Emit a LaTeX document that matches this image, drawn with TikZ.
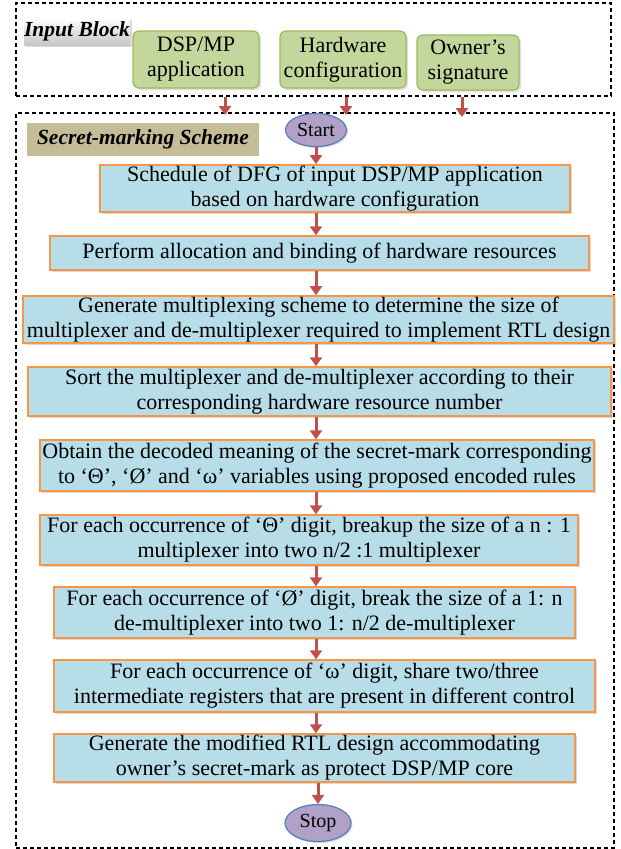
\documentclass[tikz,border=0pt]{standalone}
\usepackage{fontspec}
\setmainfont{Liberation Serif}
\usepackage{xcolor}
\usepackage{tikz}
\usetikzlibrary{arrows.meta,shapes.geometric,shadows}
\definecolor{stepfill}{HTML}{B7DDE8}
\definecolor{stepline}{HTML}{F79646}
\definecolor{inputfill}{HTML}{C3D69B}
\definecolor{inputline}{HTML}{9BBB59}
\definecolor{termfill}{HTML}{B2A1C7}
\definecolor{termline}{HTML}{4F81BD}
\definecolor{flowred}{HTML}{C0504D}
\definecolor{schemetan}{HTML}{C4BD97}
\tikzset{
  frame/.style={draw,line width=1.1pt,dash pattern=on 4pt off 3pt,inner sep=0pt},
  stepbox/.style={draw=stepline,fill=stepfill,line width=1.4pt,align=center,inner sep=1pt,
    drop shadow={shadow xshift=2pt,shadow yshift=-2pt,opacity=0.3}},
  inputbox/.style={draw=inputline,fill=inputfill,line width=1.2pt,rounded corners=6pt,
    align=center,inner sep=1pt,drop shadow={shadow xshift=2pt,shadow yshift=-2pt,opacity=0.25}},
  termnode/.style={ellipse,draw=termline,fill=termfill,line width=1.2pt,inner sep=0pt,
    font=\fontsize{20}{24}\selectfont,
    drop shadow={shadow xshift=1.5pt,shadow yshift=-1.5pt,opacity=0.3}},
  tagbox/.style={inner sep=0pt,font=\fontsize{21.5}{25}\selectfont\bfseries\itshape},
  flow/.style={draw=flowred,line width=3pt,-{Triangle[length=9pt,width=12pt]}},
}
\begin{document}
\begin{tikzpicture}[x=1pt,y=-1pt,font=\fontsize{22}{25}\selectfont]
  \useasboundingbox (0,0) rectangle (621,849);
  \node (inbox) [frame,minimum width=595pt,minimum height=93pt] at (313.5,49.5) {};
  \node (scheme) [frame,minimum width=598pt,minimum height=735pt] at (315,480.5) {};
  \node (intag) [tagbox,top color=white,bottom color=gray!45,minimum width=104pt,minimum height=27pt,
    drop shadow={shadow xshift=2pt,shadow yshift=-2pt,opacity=0.3}] at (77,31.5) {Input Block};
  \node (schemetag) [tagbox,fill=schemetan,minimum width=232pt,minimum height=33pt]
    at (143,139.5) {Secret-marking Scheme};
  \node (dsp) [inputbox,minimum width=126pt,minimum height=57pt] at (196,59.5) {DSP/MP\\application};
  \node (hw) [inputbox,minimum width=126pt,minimum height=57pt] at (343,59.5) {Hardware\\configuration};
  \node (owner) [inputbox,minimum width=102pt,minimum height=55pt] at (468,62.5) {Owner’s\\signature};
  \coordinate (c1) at (225,115);
  \coordinate (c2) at (346,115);
  \coordinate (c3) at (462,117);
  \node (st) [termnode,minimum width=61pt,minimum height=33pt] at (316,130) {Start};
  \node (b1) [stepbox,minimum width=470pt,minimum height=47pt] at (335,188.5)
    {Schedule of DFG of input DSP/MP application\\based on hardware configuration};
  \node (b2) [stepbox,minimum width=539pt,minimum height=34pt] at (319.5,253)
    {Perform allocation and binding of hardware resources};
  \node (b3) [stepbox,minimum width=591pt,minimum height=47pt] at (318.5,319.5)
    {Generate multiplexing scheme to determine the size of\\multiplexer and de-multiplexer required to implement RTL design};
  \node (b4) [stepbox,minimum width=583pt,minimum height=49pt] at (319.5,391.5)
    {Sort the multiplexer and de-multiplexer according to their\\corresponding hardware resource number};
  \node (b5) [stepbox,minimum width=554pt,minimum height=51pt] at (317,465.5)
    {Obtain the decoded meaning of the secret-mark corresponding\\to ‘Θ’, ‘Ø’ and ‘ω’ variables using proposed encoded rules};
  \node (b6) [stepbox,minimum width=538pt,minimum height=50pt] at (309,540)
    {For each occurrence of ‘Θ’ digit, breakup the size of a n : 1\\multiplexer into two n/2 :1 multiplexer};
  \node (b7) [stepbox,minimum width=521pt,minimum height=51pt] at (314.5,612.5)
    {For each occurrence of ‘Ø’ digit, break the size of a 1: n\\de-multiplexer into two 1: n/2 de-multiplexer};
  \node (b8) [stepbox,minimum width=541pt,minimum height=52pt] at (324.5,686)
    {For each occurrence of ‘ω’ digit, share two/three\\intermediate registers that are present in different control};
  \node (b9) [stepbox,minimum width=521pt,minimum height=48pt] at (314.5,758)
    {Generate the modified RTL design accommodating\\owner’s secret-mark as protect DSP/MP core};
  \node (sp) [termnode,minimum width=66pt,minimum height=37pt] at (318,823) {Stop};
  \foreach \c in {c1,c2,c3}
    \draw[flow] (inbox.south -| \c) -- (\c);
  \draw[flow] (st) -- (b1.north -| st);
  \foreach \a/\b in {b1/b2,b2/b3,b3/b4,b4/b5,b5/b6,b6/b7,b7/b8,b8/b9}
    \draw[flow] (\a.south -| st) -- (\b.north -| st);
  \draw[flow] (b9.south -| sp) -- (sp);
\end{tikzpicture}
\end{document}
